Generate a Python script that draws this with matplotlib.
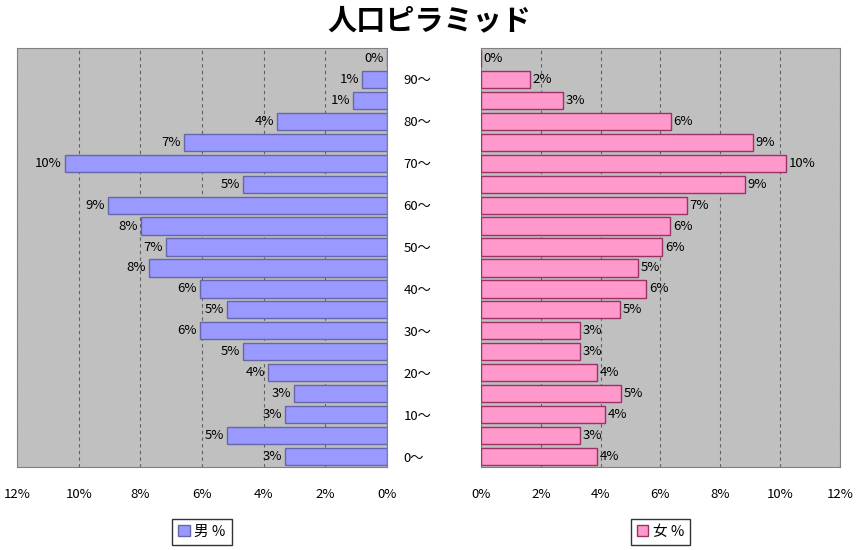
import matplotlib.pyplot as plt

plt.rcParams['font.family'] = ['Noto Sans CJK JP', 'DejaVu Sans']

# 年齢階級 (下から上へ)
ages = ["0〜", "5〜", "10〜", "15〜", "20〜", "25〜", "30〜", "35〜", "40〜", "45〜",
        "50〜", "55〜", "60〜", "65〜", "70〜", "75〜", "80〜", "85〜", "90〜", "95〜"]
male = [3.31, 5.19, 3.31, 3.02, 3.86, 4.67, 6.07, 5.19, 6.07, 7.72,
        7.17, 7.98, 9.05, 4.67, 10.45, 6.6, 3.57, 1.1, 0.81, 0.0]
female = [3.88, 3.31, 4.15, 4.68, 3.88, 3.31, 3.31, 4.65, 5.52, 5.25,
          6.05, 6.32, 6.88, 8.81, 10.18, 9.08, 6.34, 2.74, 1.64, 0.0]
xticks = [0, 2, 4, 6, 8, 10, 12]

fig = plt.figure(figsize=(8.58, 5.5), dpi=100)
ax_m = fig.add_axes([17 / 858, 1 - 467 / 550, 370 / 858, 419 / 550])
ax_f = fig.add_axes([481 / 858, 1 - 467 / 550, 359 / 858, 419 / 550])

ypos = list(range(len(ages)))
fs = 9.5

ax_m.barh(ypos, male, height=0.82, color='#9999FF', edgecolor='#6666AA',
          linewidth=1, label='男 %', zorder=3)
ax_f.barh(ypos, female, height=0.82, color='#FF99CC', edgecolor='#993366',
          linewidth=1, label='女 %', zorder=3)

# データラベル (棒の外側)
for y, v in zip(ypos, male):
    ax_m.annotate(f"{v:.0f}%", (v, y), xytext=(-2, 0), textcoords='offset points',
                  ha='right', va='center', fontsize=fs)
for y, v in zip(ypos, female):
    ax_f.annotate(f"{v:.0f}%", (v, y), xytext=(2, 0), textcoords='offset points',
                  ha='left', va='center', fontsize=fs)

for ax in (ax_m, ax_f):
    ax.set_facecolor('#C0C0C0')
    ax.set_xlim(0, 12)
    ax.set_ylim(-0.5, len(ages) - 0.5)
    ax.set_xticks(xticks)
    ax.set_xticklabels([f"{t}%" for t in xticks], fontsize=fs)
    ax.tick_params(axis='x', length=0, pad=15)
    ax.grid(axis='x', linestyle=(0, (3, 3)), color='#606060', linewidth=0.8, zorder=1)
    for s in ax.spines.values():
        s.set_color('#808080')

ax_m.invert_xaxis()
ax_m.yaxis.tick_right()
ax_m.set_yticks(ypos)
ax_m.set_yticklabels([a if i % 2 == 0 else "" for i, a in enumerate(ages)], fontsize=fs)
ax_m.tick_params(axis='y', length=0, pad=12)
ax_f.set_yticks([])

for ax in (ax_m, ax_f):
    leg = ax.legend(loc='center', bbox_to_anchor=(0.5, -0.155), fontsize=10.5,
                    frameon=True, fancybox=False, handlelength=0.8, handleheight=0.8,
                    handletextpad=0.3, borderpad=0.4, borderaxespad=0)
    leg.get_frame().set_edgecolor('black')
    leg.get_frame().set_linewidth(1)

fig.text(0.5, 1 - 20 / 550, "人口ピラミッド", ha='center', va='center',
         fontsize=21, fontweight='bold')

fig.savefig('out.png', dpi=100)
